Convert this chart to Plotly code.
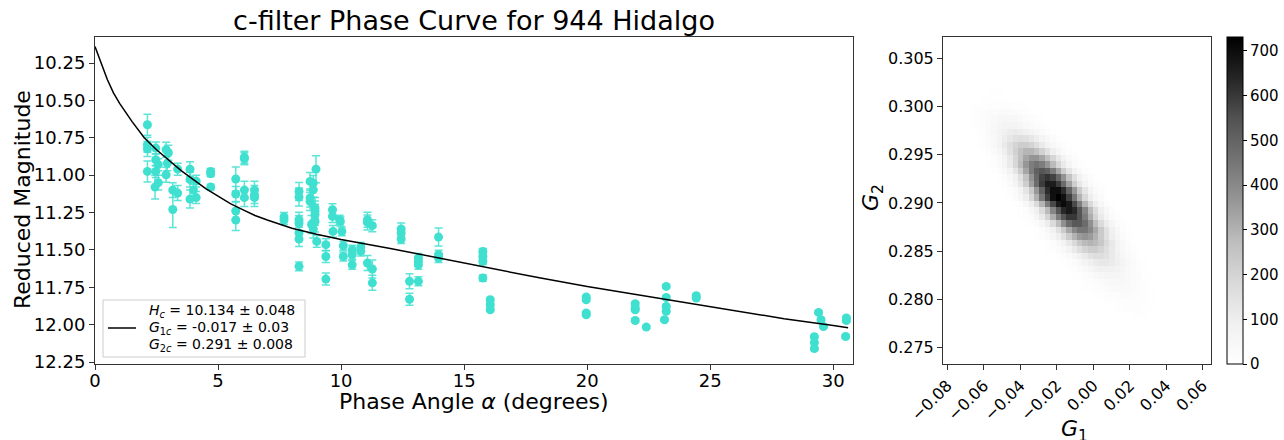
import numpy as np
import plotly.graph_objects as go

W, H = 1284, 440

# ---------------- data: observations ----------------
ALPHA = [2.13, 2.13, 2.13, 2.13, 2.47, 2.47, 2.47, 2.44, 2.57, 2.57, 2.89, 2.98, 2.94, 2.89,
         3.16, 3.16, 3.36, 3.36, 3.86, 3.86, 3.86, 4.00, 4.11, 4.11, 4.70, 4.70, 4.70,
         5.72, 5.72, 5.72, 5.72, 6.07, 6.07, 6.07, 6.07, 6.48, 6.48, 6.48,
         7.68, 7.68, 8.29, 8.29, 8.29, 8.29, 8.29, 8.29, 8.29, 8.74, 8.74, 8.74, 8.87, 8.87,
         8.94, 8.94, 8.94, 8.94, 8.98, 9.01, 8.80, 8.87, 9.38, 9.38, 9.38, 9.65, 9.65, 9.67,
         9.94, 9.97, 10.03, 10.09, 10.09, 10.45, 10.45, 10.45, 10.80, 10.80,
         11.07, 11.07, 11.07, 11.27, 11.27, 11.27, 12.44, 12.44, 12.44, 12.78, 12.78,
         13.14, 13.14, 13.14, 13.14, 13.96, 13.96, 13.96, 15.76, 15.76, 15.76, 15.76,
         16.06, 16.06, 16.06, 19.96, 19.96, 19.96, 19.96, 21.95, 21.95, 21.95, 21.95, 22.40,
         23.21, 23.21, 23.21, 23.21, 23.14, 24.43, 24.43, 29.40, 29.50, 29.60, 29.23, 29.23,
         29.23, 30.53, 30.53, 30.50]
MAG = [10.663, 10.797, 10.825, 10.975, 10.819, 10.897, 10.975, 11.080, 11.050, 10.930, 10.830,
       10.850, 10.920, 10.997, 11.100, 11.230, 10.960, 11.120, 10.960, 11.030, 11.160, 11.100,
       11.040, 11.150, 10.975, 10.990, 11.080, 11.026, 11.126, 11.240, 11.300, 10.880, 10.890,
       11.100, 11.150, 11.100, 11.130, 11.150,
       11.280, 11.300, 11.109, 11.146, 11.298, 11.320, 11.387, 11.427, 11.610, 11.042, 11.153,
       11.176, 11.053, 11.098, 11.220, 11.243, 11.265, 11.310, 10.960, 11.443, 11.330, 11.360,
       11.465, 11.544, 11.695, 11.231, 11.276, 11.376, 11.298, 11.310, 11.376, 11.472, 11.544,
       11.499, 11.532, 11.600, 11.481, 11.510, 11.298, 11.316, 11.588, 11.338, 11.628, 11.720,
       11.360, 11.387, 11.427, 11.710, 11.830, 11.554, 11.577, 11.600, 11.710, 11.414, 11.532,
       11.554, 11.510, 11.544, 11.577, 11.688, 11.833, 11.867, 11.900, 11.815, 11.833, 11.922,
       11.934, 11.860, 11.889, 11.900, 11.972, 12.016, 11.744, 11.818, 11.878, 11.910, 11.967,
       11.806, 11.822, 11.918, 11.967, 12.012, 12.080, 12.120, 12.160, 11.955, 11.972, 12.079]
MAG_ERR = [0.07, 0.05, 0.05, 0.07, 0.04, 0.04, 0.04, 0.08, 0.05, 0.04, 0.05, 0.05, 0.05, 0.05,
           0.05, 0.12, 0.04, 0.05, 0.05, 0.05, 0.06, 0.04, 0.04, 0.04, 0.02, 0.02, 0.02,
           0.08, 0.05, 0.06, 0.07, 0.04, 0.04, 0.06, 0.06, 0.06, 0.06, 0.06,
           0.03, 0.03, 0.06, 0.06, 0.05, 0.05, 0.05, 0.05, 0.03, 0.06, 0.06, 0.06, 0.05, 0.05,
           0.07, 0.07, 0.07, 0.07, 0.09, 0.04, 0.06, 0.06, 0.04, 0.04, 0.04, 0.04, 0.04, 0.04,
           0.03, 0.03, 0.03, 0.03, 0.03, 0.03, 0.03, 0.03, 0.03, 0.03,
           0.05, 0.05, 0.05, 0.04, 0.06, 0.05, 0.04, 0.03, 0.03, 0.05, 0.04,
           0.03, 0.03, 0.03, 0.03, 0.06, 0.03, 0.03, 0.02, 0.02, 0.02, 0.02,
           0.01, 0.01, 0.01, 0.01, 0.01, 0.01, 0.01, 0.01, 0.01, 0.01, 0.01, 0.01,
           0.01, 0.01, 0.01, 0.01, 0.01, 0.01, 0.01, 0.01, 0.01, 0.01, 0.01, 0.01,
           0.01, 0.01, 0.01, 0.01]

# ---------------- data: fitted model curve ----------------
CURVE_ALPHA = [0, 0.15, 0.3, 0.5, 0.75, 1.0, 1.5, 2.0, 2.5, 3.0, 3.5, 4.0, 4.5, 5.0, 5.5, 6.0,
               6.5, 7.0, 8.0, 9.0, 10.0, 12.0, 14.0, 16.0, 18.0, 20.0, 22.0, 24.0, 26.0, 28.0,
               30.0, 30.6]
CURVE_MAG = [10.14, 10.21, 10.28, 10.36, 10.45, 10.52, 10.64, 10.75, 10.83, 10.90, 10.97, 11.03,
             11.09, 11.14, 11.19, 11.23, 11.27, 11.30, 11.355, 11.395, 11.43, 11.49, 11.555,
             11.625, 11.685, 11.745, 11.80, 11.855, 11.91, 11.96, 12.005, 12.02]

LEGEND_LINES = ["<i>H<sub>c</sub></i> = 10.134 ± 0.048",
                "<i>G</i><sub>1<i>c</i></sub> = -0.017 ± 0.03",
                "<i>G</i><sub>2<i>c</i></sub> = 0.291 ± 0.008"]

# ---------------- data: 2D histogram of (G1, G2) samples ----------------
N_BINS = 50
G1_MIN, G1_MAX = -0.0824, 0.0646
G2_MIN, G2_MAX = 0.2733, 0.3072
# (row from bottom, first column, counts...)
HIST_ROWS = [
    (7, 34, [3, 5, 6, 5, 3]),
    (8, 31, [3, 6, 8, 10, 10, 10, 8, 6, 3]),
    (9, 29, [3, 5, 8, 11, 14, 15, 15, 14, 11, 8, 5, 3]),
    (10, 27, [3, 5, 9, 13, 17, 21, 24, 24, 21, 17, 13, 9, 5, 3]),
    (11, 26, [4, 7, 12, 18, 25, 31, 35, 35, 31, 25, 18, 12, 7, 4]),
    (12, 25, [3, 6, 11, 17, 26, 34, 40, 42, 40, 34, 26, 17, 11, 6, 3]),
    (13, 23, [2, 4, 9, 16, 26, 38, 50, 59, 62, 59, 50, 38, 26, 16, 9, 4, 2]),
    (14, 22, [3, 6, 12, 22, 37, 54, 71, 83, 88, 83, 71, 54, 37, 22, 12, 6, 3]),
    (15, 21, [2, 6, 12, 24, 41, 64, 89, 111, 123, 123, 111, 89, 64, 41, 24, 12, 6, 2]),
    (16, 20, [3, 7, 16, 31, 54, 84, 117, 146, 163, 163, 146, 117, 84, 54, 31, 16, 7, 3]),
    (17, 18, [2, 4, 10, 22, 43, 74, 115, 160, 199, 222, 222, 199, 160, 115, 74, 43, 22, 10, 4, 2]),
    (18, 18, [3, 9, 20, 41, 75, 122, 180, 237, 279, 295, 279, 237, 180, 122, 75, 41, 20, 9, 3]),
    (19, 16, [2, 4, 11, 25, 52, 95, 155, 228, 300, 354, 374, 354, 300, 228, 155, 95, 52, 25, 11, 4, 2]),
    (20, 16, [3, 9, 21, 45, 86, 150, 233, 323, 403, 450, 450, 403, 323, 233, 150, 86, 45, 21, 9, 3]),
    (21, 15, [4, 10, 24, 53, 102, 176, 274, 381, 476, 530, 530, 476, 381, 274, 176, 102, 53, 24, 10, 4]),
    (22, 14, [4, 12, 27, 60, 115, 200, 312, 433, 540, 602, 602, 540, 433, 312, 200, 115, 60, 27, 12, 4]),
    (23, 13, [3, 8, 20, 46, 92, 170, 278, 409, 537, 634, 670, 634, 537, 409, 278, 170, 92, 46, 20, 8, 3]),
    (24, 12, [3, 8, 21, 48, 98, 179, 293, 431, 567, 669, 707, 669, 567, 431, 293, 179, 98, 48, 21, 8, 3]),
    (25, 11, [3, 8, 22, 50, 101, 185, 303, 446, 586, 692, 731, 692, 586, 446, 303, 185, 101, 50, 22, 8, 3]),
    (26, 11, [5, 13, 32, 69, 134, 232, 361, 501, 625, 697, 697, 625, 501, 361, 232, 134, 69, 32, 13, 5]),
    (27, 10, [5, 13, 30, 66, 127, 220, 342, 475, 592, 661, 661, 592, 475, 342, 220, 127, 66, 30, 13, 5]),
    (28, 9, [3, 7, 18, 42, 84, 155, 254, 373, 490, 578, 611, 578, 490, 373, 254, 155, 84, 42, 18, 7, 3]),
    (29, 8, [2, 6, 16, 37, 74, 136, 223, 328, 431, 509, 538, 509, 431, 328, 223, 136, 74, 37, 16, 6, 2]),
    (30, 7, [2, 5, 14, 31, 63, 115, 189, 278, 366, 431, 456, 431, 366, 278, 189, 115, 63, 31, 14, 5, 2]),
    (31, 7, [3, 7, 17, 37, 71, 123, 191, 265, 331, 369, 369, 331, 265, 191, 123, 71, 37, 17, 7, 3]),
    (32, 6, [2, 6, 13, 29, 56, 97, 150, 209, 261, 291, 291, 261, 209, 150, 97, 56, 29, 13, 6, 2]),
    (33, 5, [2, 4, 10, 22, 43, 74, 115, 160, 199, 222, 222, 199, 160, 115, 74, 43, 22, 10, 4, 2]),
    (34, 5, [2, 5, 11, 22, 40, 66, 98, 128, 151, 160, 151, 128, 98, 66, 40, 22, 11, 5, 2]),
    (35, 5, [3, 7, 15, 28, 46, 67, 88, 104, 110, 104, 88, 67, 46, 28, 15, 7, 3]),
    (36, 4, [2, 5, 10, 18, 29, 43, 56, 66, 70, 66, 56, 43, 29, 18, 10, 5, 2]),
    (37, 4, [3, 6, 11, 18, 27, 38, 46, 51, 51, 46, 38, 27, 18, 11, 6, 3]),
    (38, 4, [3, 6, 10, 16, 22, 27, 31, 31, 27, 22, 16, 10, 6, 3]),
    (39, 5, [4, 6, 9, 12, 14, 15, 14, 12, 9, 6, 4]),
    (40, 6, [3, 5, 6, 7, 6, 5, 3]),
    (41, 6, [2, 3, 4, 4, 4, 3, 2]),
]

counts = np.zeros((N_BINS, N_BINS))
for r, c0, vals in HIST_ROWS:
    counts[r, c0:c0 + len(vals)] = vals
dx = (G1_MAX - G1_MIN) / N_BINS
dy = (G2_MAX - G2_MIN) / N_BINS

# ---------------- layout helpers (pixel -> paper) ----------------
def px(x):
    return x / W

def py(y):
    return 1 - y / H

FONT = "DejaVu Sans"
TURQ = "rgb(64,224,208)"

fig = go.Figure()

fig.add_trace(go.Scatter(
    x=ALPHA, y=MAG, mode="markers",
    marker=dict(color=TURQ, size=9, line=dict(width=0)),
    error_y=dict(type="data", array=MAG_ERR, visible=True, color="rgba(64,224,208,0.85)",
                 thickness=1.5, width=4),
    showlegend=False, xaxis="x", yaxis="y"))

fig.add_trace(go.Scatter(
    x=CURVE_ALPHA, y=CURVE_MAG, mode="lines", line=dict(color="black", width=1.5),
    name="model", showlegend=False, xaxis="x", yaxis="y"))

greys = [[0.0, "#ffffff"], [0.125, "#f0f0f0"], [0.25, "#d9d9d9"], [0.375, "#bdbdbd"],
         [0.5, "#969696"], [0.625, "#737373"], [0.75, "#525252"], [0.875, "#252525"],
         [1.0, "#000000"]]

fig.add_trace(go.Heatmap(
    z=counts, x0=G1_MIN + dx / 2, dx=dx, y0=G2_MIN + dy / 2, dy=dy,
    colorscale=greys, zmin=0, zmax=731, xaxis="x2", yaxis="y2", showscale=True,
    colorbar=dict(x=px(1227), xanchor="left", xref="paper", y=py(364), yanchor="bottom",
                  yref="paper", len=327 / H, lenmode="fraction", thickness=16,
                  thicknessmode="pixels", outlinecolor="black", outlinewidth=1,
                  xpad=0, ypad=0,
                  tickvals=[0, 100, 200, 300, 400, 500, 600, 700], ticks="outside",
                  ticklen=4, tickcolor="black", tickfont=dict(family=FONT, size=15, color="black"))))

def axis_common(size):
    return dict(showline=True, linecolor="#333", linewidth=1, mirror=True, ticks="outside",
                ticklen=5, tickwidth=1, tickcolor="#333", showgrid=False, zeroline=False,
                automargin=False, tickfont=dict(family=FONT, size=size, color="black"))

# legend drawn as a framed box with line sample and text
shapes = [
    dict(type="rect", xref="paper", yref="paper", x0=px(103), x1=px(305), y0=py(357), y1=py(300),
         line=dict(color="#cccccc", width=1), fillcolor="rgba(255,255,255,0.8)", layer="above"),
    dict(type="line", xref="paper", yref="paper", x0=px(108), x1=px(136), y0=py(328), y1=py(328),
         line=dict(color="black", width=1.5), layer="above"),
]

annotations = [
    dict(text="Reduced Magnitude", x=px(22), y=py(200), xref="paper", yref="paper",
         xanchor="center", yanchor="middle", textangle=-90, showarrow=False,
         font=dict(family=FONT, size=22, color="black")),
    dict(text="Phase Angle <i>α</i> (degrees)", x=px(474), y=py(401), xref="paper",
         yref="paper", xanchor="center", yanchor="middle", showarrow=False,
         font=dict(family=FONT, size=22, color="black")),
    dict(text="<i>G</i><sub>2</sub>", x=px(873), y=py(198), xref="paper", yref="paper",
         xanchor="center", yanchor="middle", textangle=-90, showarrow=False,
         font=dict(family=FONT, size=22, color="black")),
    dict(text="<i>G</i><sub>1</sub>", x=px(1074), y=py(430), xref="paper", yref="paper",
         xanchor="center", yanchor="middle", showarrow=False,
         font=dict(family=FONT, size=22, color="black")),
]
for i, line in enumerate(LEGEND_LINES):
    annotations.append(dict(text=line, x=px(147), y=py(311 + 17 * i), xref="paper", yref="paper",
                            xanchor="left", yanchor="middle", showarrow=False,
                            font=dict(family=FONT, size=14, color="black")))

fig.update_layout(
    template="none",
    width=W, height=H, margin=dict(l=0, r=0, t=0, b=0, autoexpand=False),
    paper_bgcolor="white", plot_bgcolor="white",
    font=dict(family=FONT, color="black"),
    showlegend=False,
    xaxis=dict(domain=[px(95), px(853)], range=[0, 30.8], tickvals=[0, 5, 10, 15, 20, 25, 30],
               anchor="y", ticklabelstandoff=-5, **axis_common(18)),
    yaxis=dict(domain=[py(364), py(37)], range=[12.263, 10.076],
               tickvals=[10.25, 10.5, 10.75, 11.0, 11.25, 11.5, 11.75, 12.0, 12.25],
               tickformat=".2f", anchor="x", **axis_common(18)),
    xaxis2=dict(domain=[px(943), px(1211)], range=[G1_MIN, G1_MAX],
                tickvals=[-0.08, -0.06, -0.04, -0.02, 0.0, 0.02, 0.04, 0.06], tickformat=".2f",
                tickangle=-45, anchor="y2", **axis_common(16)),
    yaxis2=dict(domain=[py(364), py(37)], range=[G2_MIN, G2_MAX],
                tickvals=[0.275, 0.28, 0.285, 0.29, 0.295, 0.3, 0.305], tickformat=".3f",
                anchor="x2", **axis_common(16)),
    title=dict(text="c-filter Phase Curve for 944 Hidalgo", x=px(474), xanchor="center",
               y=py(21), yanchor="middle", xref="paper", yref="paper",
               font=dict(family=FONT, size=27, color="black")),
    shapes=shapes,
    annotations=annotations,
)

fig.write_html("out.html")
